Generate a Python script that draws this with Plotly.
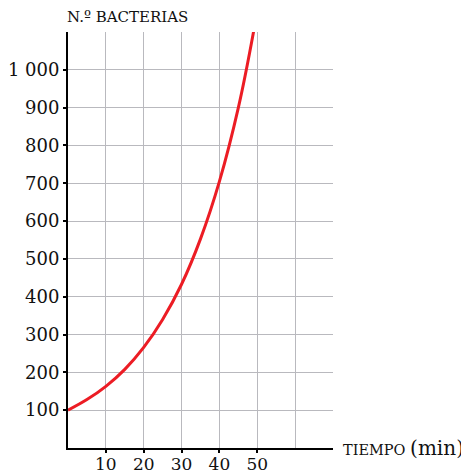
import plotly.graph_objects as go

# minutes vs number of bacteria
tiempo = [0, 5, 10, 15, 20, 25, 30, 35, 40, 45, 49, 50]
bacterias = [100, 128, 163, 208, 266, 340, 433, 553, 705, 900, 1100, 1160]

x_ticks = [10, 20, 30, 40, 50]
y_ticks = [100, 200, 300, 400, 500, 600, 700, 800, 900, 1000]
y_labels = ["100", "200", "300", "400", "500", "600", "700", "800", "900", "1 000"]

grid = "#b9b9be"
serif = "DejaVu Serif"

fig = go.Figure()

fig.add_trace(go.Scatter(
    x=tiempo,
    y=bacterias,
    mode="lines",
    line=dict(color="#ec1c24", width=3, shape="spline"),
    hoverinfo="skip"
))

fig.update_xaxes(
    range=[0, 70],
    tickvals=x_ticks,
    showgrid=True,
    gridcolor=grid,
    gridwidth=1.3,
    minor=dict(tickvals=[60, 70], showgrid=True, gridcolor=grid, gridwidth=1.3, ticks=""),
    showline=True,
    linecolor="black",
    linewidth=2,
    ticks="outside",
    ticklen=3,
    tickwidth=2,
    tickcolor="black",
    zeroline=False,
    automargin=False,
    ticklabelstandoff=-3,
    tickfont=dict(family=serif, size=17, color="#111")
)

fig.update_yaxes(
    range=[0, 1100],
    tickvals=y_ticks,
    ticktext=y_labels,
    showgrid=True,
    gridcolor=grid,
    gridwidth=1.3,
    minor=dict(tickvals=[1100], showgrid=True, gridcolor=grid, gridwidth=1.3, ticks=""),
    showline=True,
    linecolor="black",
    linewidth=2,
    ticks="outside",
    ticklen=3,
    tickwidth=2,
    tickcolor="black",
    zeroline=False,
    automargin=False,
    tickfont=dict(family=serif, size=18, color="#111")
)

fig.add_annotation(
    text="N.º BACTERIAS",
    xref="paper", yref="paper",
    x=-0.01, y=1.0, yshift=4,
    xanchor="left", yanchor="bottom",
    showarrow=False,
    font=dict(family=serif, size=15, color="#111")
)

fig.add_annotation(
    text="TIEMPO <span style='font-size:20px'>(min)</span>",
    xref="paper", yref="paper",
    x=1.0, y=0.0, xshift=8,
    xanchor="left", yanchor="middle",
    showarrow=False,
    font=dict(family=serif, size=14.5, color="#111")
)

fig.update_layout(
    width=469,
    height=475,
    margin=dict(l=60, r=144, t=24, b=35),
    plot_bgcolor="white",
    paper_bgcolor="white",
    showlegend=False
)

fig.write_html("out.html")
